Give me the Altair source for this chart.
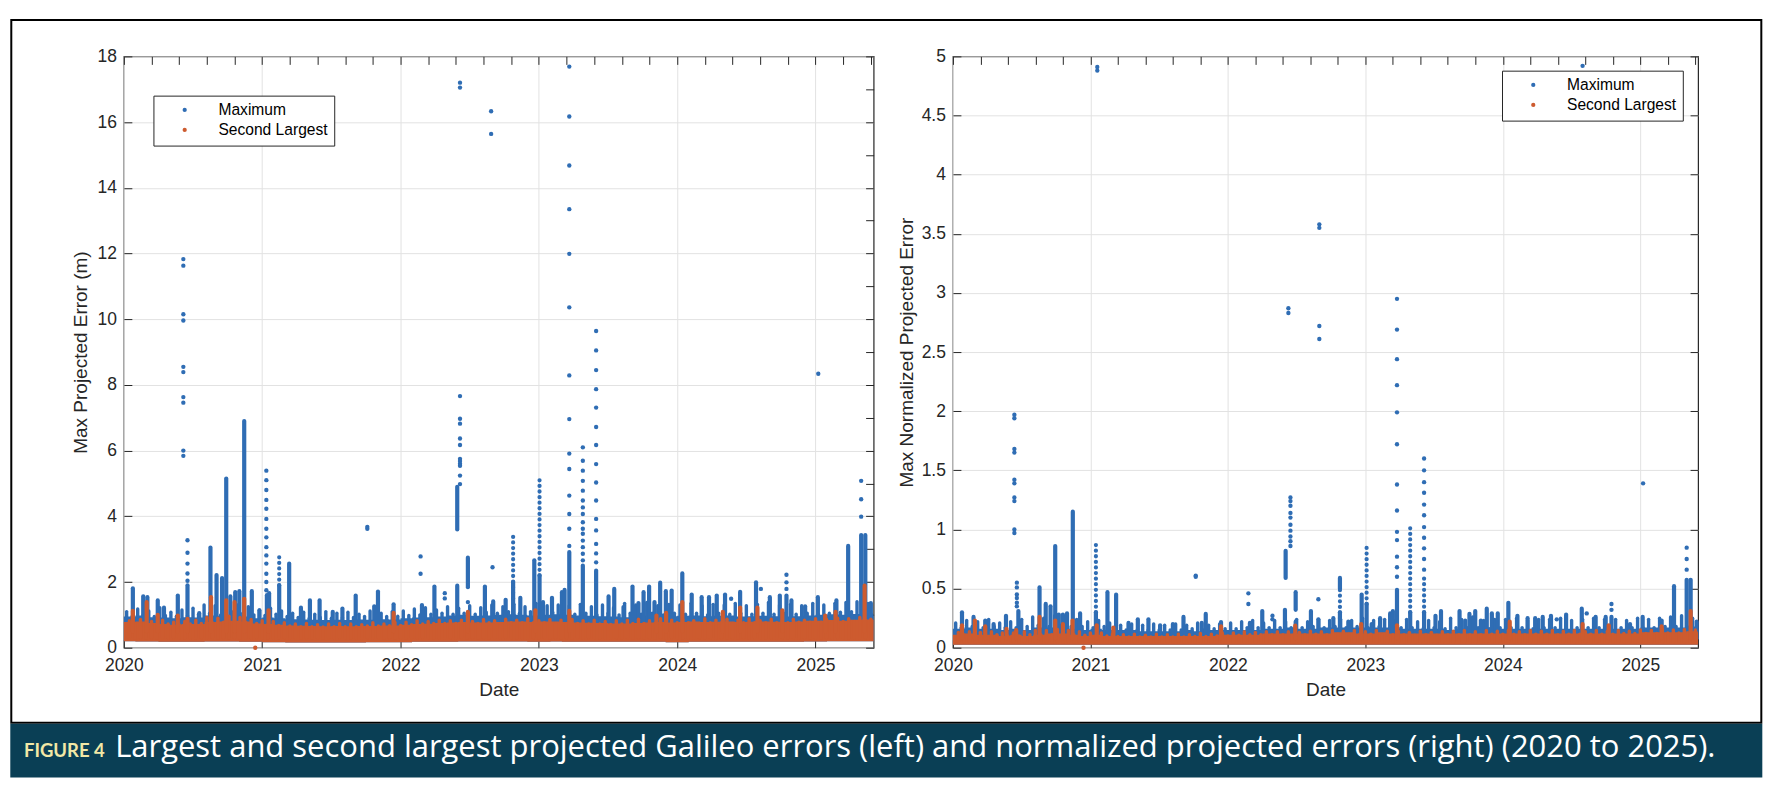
import altair as alt
import pandas as pd

BLUE = "#2F6DB4"
ORANGE = "#CD5B2F"
INK = "#262626"
GRID = "#E2E2E2"
TEAL = "#0A3F55"
CREAM = "#F2E8A6"
AX_FONT = "Liberation Sans, Arial, Helvetica, sans-serif"
X_END = 2025.42
YEAR_TICKS = [2020, 2021, 2022, 2023, 2024, 2025]
SERIES = ["Maximum", "Second Largest"]
COMB_START = 2020.02   # comb samples every 0.04 yr
COMB_STEP = 0.04

# ---------------------------------------------------------------- left panel
# monthly envelope of the dense point cloud (Jan 2020 .. Jun 2025)
left_blue_top = [
    0.95, 0.98, 0.93, 0.92, 0.90, 0.93, 0.92, 0.98, 0.97, 0.98, 0.95, 0.90,
    0.92, 0.90, 0.87, 0.86, 0.85, 0.84, 0.85, 0.84, 0.86, 0.85, 0.87, 0.86,
    0.90, 0.92, 0.93, 0.95, 0.98, 1.00, 0.97, 0.98, 1.00, 1.02, 1.00, 0.98,
    1.00, 1.02, 1.00, 0.98, 0.97, 0.96, 0.95, 0.93, 0.95, 0.97, 0.98, 0.96,
    0.97, 0.98, 0.96, 0.97, 0.98, 0.95, 0.96, 0.97, 0.96, 0.95, 0.96, 0.98,
    1.00, 1.02, 1.00, 1.03, 1.05, 1.00]
left_orange_top = [
    0.78, 0.80, 0.75, 0.72, 0.70, 0.72, 0.72, 0.78, 0.80, 0.82, 0.80, 0.74,
    0.72, 0.70, 0.68, 0.67, 0.66, 0.65, 0.66, 0.65, 0.66, 0.66, 0.68, 0.68,
    0.70, 0.72, 0.73, 0.75, 0.77, 0.78, 0.77, 0.77, 0.78, 0.80, 0.80, 0.78,
    0.80, 0.80, 0.78, 0.77, 0.76, 0.75, 0.74, 0.74, 0.75, 0.77, 0.78, 0.77,
    0.78, 0.80, 0.78, 0.79, 0.80, 0.78, 0.79, 0.80, 0.79, 0.78, 0.80, 0.82,
    0.82, 0.84, 0.82, 0.85, 0.86, 0.84]
left_orange_low = [
    0.20, 0.19, 0.19, 0.18, 0.18, 0.18, 0.18, 0.19, 0.19, 0.19, 0.18, 0.18,
    0.17, 0.17, 0.16, 0.16, 0.16, 0.16, 0.16, 0.16, 0.16, 0.17, 0.17, 0.17,
    0.17, 0.18, 0.18, 0.18, 0.18, 0.19, 0.19, 0.19, 0.19, 0.19, 0.19, 0.18,
    0.18, 0.19, 0.18, 0.18, 0.18, 0.18, 0.18, 0.18, 0.18, 0.18, 0.18, 0.17,
    0.17, 0.18, 0.18, 0.18, 0.18, 0.18, 0.18, 0.18, 0.18, 0.18, 0.18, 0.19,
    0.19, 0.20, 0.20, 0.20, 0.20, 0.20]
# short-lived peaks along the top of the band, one per comb sample
left_blue_comb = [
    1.10, 0.96, 1.18, 1.00, 1.12, 0.95, 1.22, 0.98, 1.08, 0.96,
    1.15, 0.98, 1.20, 1.02, 1.30, 1.05, 1.28, 1.00, 1.35, 1.10,
    1.30, 1.05, 1.25, 1.00, 1.15, 0.98, 1.20, 1.02, 1.12, 0.95,
    1.05, 0.92, 1.08, 0.90, 1.02, 0.92, 1.10, 0.90, 1.05, 0.92,
    1.08, 0.92, 1.02, 0.95, 1.12, 0.92, 1.05, 0.95, 1.10, 0.96,
    1.12, 0.98, 1.18, 1.00, 1.22, 1.02, 1.15, 1.05, 1.25, 1.02,
    1.20, 1.05, 1.28, 1.02, 1.22, 1.08, 1.30, 1.05, 1.25, 1.10,
    1.32, 1.05, 1.25, 1.10, 1.35, 1.05, 1.28, 1.08, 1.30, 1.05,
    1.28, 1.02, 1.32, 1.05, 1.25, 1.00, 1.30, 1.05, 1.22, 1.00,
    1.35, 1.05, 1.30, 1.02, 1.38, 1.05, 1.28, 1.00, 1.32, 1.05,
    1.30, 1.02, 1.35, 1.05, 1.28, 1.00, 1.32, 1.05, 1.30, 1.02,
    1.35, 1.05, 1.28, 1.02, 1.32, 1.05, 1.38, 1.02, 1.30, 1.05,
    1.32, 1.02, 1.28, 1.05, 1.35, 1.02, 1.30, 1.05, 1.35, 1.08,
    1.38, 1.10, 1.40, 1.12, 1.35]
left_orange_comb = [
    0.82, 0.74, 0.86, 0.72, 0.80, 0.70, 0.84, 0.72, 0.78, 0.70,
    0.80, 0.72, 0.84, 0.74, 0.92, 0.76, 0.90, 0.78, 0.96, 0.78,
    0.92, 0.78, 0.86, 0.74, 0.82, 0.70, 0.80, 0.68, 0.76, 0.66,
    0.72, 0.64, 0.74, 0.64, 0.70, 0.63, 0.72, 0.64, 0.74, 0.64,
    0.72, 0.64, 0.70, 0.66, 0.76, 0.66, 0.72, 0.67, 0.77, 0.68,
    0.78, 0.70, 0.82, 0.72, 0.80, 0.74, 0.84, 0.74, 0.82, 0.74,
    0.84, 0.74, 0.80, 0.74, 0.86, 0.76, 0.82, 0.74, 0.87, 0.76,
    0.84, 0.76, 0.88, 0.76, 0.82, 0.76, 0.86, 0.74, 0.84, 0.74,
    0.86, 0.74, 0.82, 0.72, 0.84, 0.72, 0.80, 0.71, 0.82, 0.72,
    0.84, 0.74, 0.87, 0.74, 0.82, 0.74, 0.88, 0.76, 0.84, 0.76,
    0.86, 0.76, 0.82, 0.74, 0.88, 0.76, 0.84, 0.76, 0.87, 0.74,
    0.84, 0.76, 0.88, 0.76, 0.82, 0.76, 0.87, 0.76, 0.84, 0.76,
    0.87, 0.78, 0.84, 0.78, 0.88, 0.78, 0.86, 0.79, 0.90, 0.80,
    0.88, 0.80, 0.92, 0.82, 0.87]

# dense columns of maxima rising out of the band: (date, top)
left_blue_spikes = [
    (2020.065, 1.81), (2020.14, 1.56), (2020.17, 1.54), (2020.245, 1.44),
    (2020.29, 1.22), (2020.39, 1.59), (2020.46, 1.90), (2020.545, 1.05),
    (2020.626, 3.05), (2020.67, 2.21), (2020.71, 2.12), (2020.74, 5.15),
    (2020.77, 1.56), (2020.805, 1.69), (2020.835, 1.72), (2020.87, 6.90),
    (2020.925, 1.72), (2020.98, 1.14), (2021.034, 1.60), (2021.05, 1.66),
    (2021.123, 1.90), (2021.195, 2.56), (2021.28, 1.22), (2021.345, 1.44),
    (2021.415, 1.44), (2021.51, 1.09), (2021.58, 1.19), (2021.676, 1.59),
    (2021.81, 1.26), (2021.837, 1.71), (2021.95, 1.32), (2022.155, 1.30),
    (2022.245, 1.86), (2022.41, 1.89), (2022.61, 1.86), (2022.67, 1.41),
    (2022.76, 1.46), (2022.814, 2.00), (2022.866, 1.52), (2022.967, 2.66),
    (2023.005, 2.20), (2023.03, 1.39), (2023.095, 1.52), (2023.167, 1.69),
    (2023.186, 1.76), (2023.22, 2.91), (2023.318, 2.50), (2023.414, 2.35),
    (2023.504, 1.56), (2023.545, 1.79), (2023.612, 1.24), (2023.677, 1.86),
    (2023.72, 1.36), (2023.757, 1.69), (2023.797, 1.86), (2023.836, 1.39),
    (2023.877, 1.98), (2023.918, 1.72), (2023.96, 1.74), (2024.037, 2.26),
    (2024.105, 1.62), (2024.177, 1.54), (2024.23, 1.54), (2024.286, 1.59),
    (2024.346, 1.62), (2024.455, 1.70), (2024.57, 1.99), (2024.67, 1.54),
    (2024.742, 1.59), (2024.79, 1.59), (2024.826, 1.44), (2024.925, 1.26),
    (2025.017, 1.54), (2025.151, 1.44), (2025.236, 3.10), (2025.33, 3.43),
    (2025.36, 3.43), (2025.40, 1.36)]
# detached dense stretches: (date, from, to)
left_blue_segments = [(2022.41, 3.60, 4.90), (2022.487, 1.84, 2.74)]
# loosely dotted stretches: (date, from, to)
left_blue_dotted = [(2021.123, 1.90, 2.80), (2022.814, 1.50, 3.50),
                    (2023.005, 2.20, 5.20)]
# isolated maxima: date -> values
left_blue_dots = {
    2020.43: [11.83, 11.63, 10.15, 9.96, 8.55, 8.39, 7.63, 7.46, 6.00, 5.84],
    2020.46: [3.27, 2.89, 2.56, 2.26, 2.04],
    2021.03: [5.39, 5.10, 4.80, 4.50, 4.23, 3.92, 3.62, 3.36, 3.06, 2.81,
              2.56, 2.25, 2.00, 1.75],
    2021.76: [3.68, 3.62],
    2022.145: [2.78, 2.25],
    2022.32: [1.66, 1.50],
    2022.43: [17.20, 17.05, 7.66, 6.97, 6.82, 6.37, 6.17, 5.75, 5.68, 5.60,
              5.54, 5.24, 4.98],
    2022.487: [1.39],
    2022.655: [16.33, 15.64],
    2022.665: [2.45],
    2023.22: [17.69, 16.17, 14.68, 13.35, 11.99, 10.36, 8.29, 6.96, 5.91,
              5.44, 4.63, 4.07, 3.62, 3.10],
    2023.318: [6.10, 5.69, 5.39, 5.08, 4.78, 4.48, 4.27, 4.07, 3.82, 3.62,
               3.47, 3.26, 3.06, 2.86, 2.66],
    2023.414: [9.64, 9.05, 8.45, 7.87, 7.31, 6.72, 6.17, 5.59, 5.03, 4.48,
               3.92, 3.57, 3.16, 2.87, 2.60],
    2024.39: [1.49],
    2024.605: [1.79],
    2024.79: [2.22, 1.99, 1.79],
    2025.02: [8.34],
    2025.33: [5.08, 4.52, 3.99],
}
left_orange_spikes = [
    (2020.065, 1.12), (2020.165, 1.39), (2020.245, 1.00), (2020.39, 0.98),
    (2020.46, 0.88), (2020.63, 1.54), (2020.74, 1.44), (2020.80, 1.39),
    (2020.87, 1.49), (2021.046, 1.14), (2021.95, 1.06), (2022.487, 1.09),
    (2022.975, 1.14), (2023.22, 1.12), (2023.85, 0.98), (2023.92, 1.06),
    (2024.037, 1.39), (2024.33, 1.09), (2024.455, 1.22), (2024.58, 1.22),
    (2024.76, 1.14), (2025.07, 0.98), (2025.145, 1.09), (2025.355, 1.89)]
left_orange_dots = {2020.95: [0.0]}

# --------------------------------------------------------------- right panel
right_blue_top = [
    0.16, 0.17, 0.16, 0.16, 0.15, 0.16, 0.15, 0.17, 0.17, 0.17, 0.16, 0.15,
    0.16, 0.15, 0.15, 0.15, 0.14, 0.14, 0.14, 0.14, 0.15, 0.14, 0.15, 0.15,
    0.15, 0.15, 0.15, 0.16, 0.16, 0.17, 0.16, 0.16, 0.17, 0.17, 0.17, 0.17,
    0.17, 0.17, 0.17, 0.16, 0.16, 0.16, 0.16, 0.15, 0.16, 0.16, 0.16, 0.16,
    0.16, 0.16, 0.16, 0.16, 0.16, 0.16, 0.16, 0.16, 0.16, 0.16, 0.16, 0.16,
    0.17, 0.17, 0.17, 0.17, 0.18, 0.17]
right_orange_top = [
    0.11, 0.12, 0.11, 0.11, 0.10, 0.11, 0.10, 0.11, 0.12, 0.12, 0.11, 0.10,
    0.11, 0.10, 0.10, 0.10, 0.10, 0.10, 0.10, 0.10, 0.10, 0.10, 0.10, 0.11,
    0.11, 0.11, 0.11, 0.12, 0.12, 0.12, 0.12, 0.12, 0.12, 0.13, 0.13, 0.12,
    0.12, 0.13, 0.12, 0.12, 0.12, 0.12, 0.12, 0.12, 0.12, 0.12, 0.12, 0.12,
    0.12, 0.12, 0.12, 0.12, 0.12, 0.12, 0.12, 0.12, 0.12, 0.12, 0.12, 0.12,
    0.13, 0.13, 0.13, 0.13, 0.14, 0.13]
right_orange_low = [0.025] * 66
right_blue_comb = [
    0.21, 0.17, 0.23, 0.18, 0.22, 0.17, 0.24, 0.18, 0.21, 0.17,
    0.22, 0.17, 0.24, 0.18, 0.26, 0.19, 0.25, 0.18, 0.27, 0.19,
    0.26, 0.18, 0.24, 0.18, 0.22, 0.17, 0.23, 0.18, 0.21, 0.16,
    0.19, 0.15, 0.20, 0.15, 0.19, 0.15, 0.20, 0.15, 0.19, 0.15,
    0.20, 0.15, 0.19, 0.16, 0.21, 0.15, 0.19, 0.16, 0.20, 0.16,
    0.21, 0.16, 0.22, 0.17, 0.23, 0.17, 0.21, 0.17, 0.23, 0.17,
    0.22, 0.17, 0.24, 0.17, 0.22, 0.18, 0.24, 0.17, 0.23, 0.18,
    0.24, 0.17, 0.23, 0.18, 0.25, 0.17, 0.23, 0.18, 0.24, 0.17,
    0.23, 0.17, 0.24, 0.17, 0.22, 0.16, 0.23, 0.17, 0.22, 0.16,
    0.25, 0.17, 0.24, 0.17, 0.26, 0.17, 0.23, 0.16, 0.24, 0.17,
    0.24, 0.17, 0.25, 0.17, 0.23, 0.16, 0.24, 0.17, 0.24, 0.17,
    0.25, 0.17, 0.23, 0.17, 0.24, 0.17, 0.25, 0.17, 0.24, 0.17,
    0.24, 0.17, 0.23, 0.17, 0.25, 0.17, 0.24, 0.17, 0.25, 0.18,
    0.26, 0.18, 0.27, 0.18, 0.25]
right_orange_comb = [
    0.130, 0.110, 0.135, 0.110, 0.130, 0.100, 0.135, 0.110, 0.125, 0.100,
    0.125, 0.100, 0.135, 0.110, 0.145, 0.110, 0.145, 0.110, 0.155, 0.115,
    0.145, 0.110, 0.135, 0.105, 0.125, 0.100, 0.125, 0.100, 0.115, 0.095,
    0.110, 0.090, 0.115, 0.090, 0.105, 0.090, 0.115, 0.090, 0.110, 0.090,
    0.115, 0.090, 0.110, 0.095, 0.120, 0.095, 0.115, 0.100, 0.125, 0.100,
    0.125, 0.105, 0.135, 0.110, 0.130, 0.110, 0.135, 0.110, 0.135, 0.110,
    0.135, 0.110, 0.130, 0.110, 0.140, 0.115, 0.135, 0.110, 0.145, 0.115,
    0.140, 0.115, 0.145, 0.115, 0.135, 0.115, 0.145, 0.110, 0.140, 0.110,
    0.140, 0.110, 0.130, 0.105, 0.140, 0.110, 0.130, 0.105, 0.135, 0.110,
    0.140, 0.110, 0.145, 0.110, 0.135, 0.110, 0.145, 0.115, 0.140, 0.115,
    0.145, 0.115, 0.135, 0.110, 0.145, 0.115, 0.140, 0.115, 0.145, 0.110,
    0.140, 0.115, 0.145, 0.115, 0.135, 0.115, 0.145, 0.115, 0.140, 0.115,
    0.145, 0.120, 0.140, 0.120, 0.150, 0.120, 0.145, 0.120, 0.155, 0.125,
    0.150, 0.125, 0.155, 0.125, 0.150]

right_blue_spikes = [
    (2020.066, 0.30), (2020.15, 0.26), (2020.235, 0.23), (2020.296, 0.20),
    (2020.386, 0.27), (2020.476, 0.31), (2020.63, 0.51), (2020.675, 0.37),
    (2020.71, 0.35), (2020.744, 0.86), (2020.77, 0.28), (2020.80, 0.28),
    (2020.83, 0.29), (2020.872, 1.15), (2020.925, 0.29), (2021.04, 0.30),
    (2021.05, 0.19), (2021.124, 0.47), (2021.187, 0.45), (2021.277, 0.21),
    (2021.345, 0.24), (2021.422, 0.24), (2021.507, 0.19), (2021.60, 0.20),
    (2021.677, 0.26), (2021.81, 0.21), (2021.839, 0.286), (2021.95, 0.217),
    (2022.16, 0.21), (2022.25, 0.31), (2022.415, 0.32), (2022.493, 0.22),
    (2022.604, 0.31), (2022.658, 0.24), (2022.767, 0.25), (2022.815, 0.30),
    (2022.876, 0.22), (2022.973, 0.45), (2023.009, 0.37), (2023.046, 0.20),
    (2023.107, 0.25), (2023.18, 0.29), (2023.20, 0.31), (2023.23, 0.49),
    (2023.326, 0.30), (2023.427, 0.30), (2023.51, 0.27), (2023.55, 0.31),
    (2023.685, 0.31), (2023.726, 0.23), (2023.757, 0.286), (2023.799, 0.31),
    (2023.84, 0.23), (2023.883, 0.33), (2023.92, 0.29), (2023.963, 0.29),
    (2024.04, 0.38), (2024.106, 0.27), (2024.18, 0.25), (2024.235, 0.25),
    (2024.29, 0.26), (2024.35, 0.27), (2024.46, 0.28), (2024.574, 0.33),
    (2024.675, 0.26), (2024.748, 0.26), (2024.79, 0.26), (2024.925, 0.20),
    (2025.017, 0.26), (2025.155, 0.23), (2025.245, 0.52), (2025.337, 0.574),
    (2025.366, 0.574), (2025.41, 0.22)]
right_blue_segments = [(2022.42, 0.59, 0.82), (2022.493, 0.32, 0.47),
                       (2022.815, 0.50, 0.59)]
right_blue_dotted = [(2021.04, 0.30, 0.90), (2022.815, 0.25, 0.50),
                     (2023.009, 0.37, 0.86), (2023.326, 0.30, 1.02),
                     (2023.427, 0.30, 0.62)]
right_blue_dots = {
    2020.447: [1.97, 1.94, 1.68, 1.65, 1.42, 1.39, 1.27, 1.24, 1.00, 0.97],
    2020.465: [0.55, 0.51, 0.45, 0.42, 0.38, 0.35],
    2021.05: [4.91, 4.88],
    2021.766: [0.61, 0.60],
    2022.149: [0.46, 0.37],
    2022.324: [0.27, 0.24],
    2022.44: [2.87, 2.83],
    2022.455: [1.27, 1.24, 1.20, 1.14, 1.10, 1.04, 0.99, 0.94, 0.90, 0.86],
    2022.658: [0.41],
    2022.665: [3.58, 3.55, 2.72, 2.61],
    2023.23: [2.95, 2.69, 2.44, 2.22, 1.99, 1.72, 1.38, 1.16, 0.98, 0.91,
              0.77, 0.68, 0.60],
    2023.427: [1.60, 1.50, 1.40, 1.31, 1.21, 1.12, 1.02, 0.93, 0.84, 0.75,
               0.66],
    2024.392: [0.24],
    2024.58: [4.92],
    2024.61: [0.29],
    2024.79: [0.37, 0.32],
    2025.02: [1.39],
    2025.337: [0.846, 0.75, 0.66],
}
right_orange_spikes = [
    (2020.066, 0.19), (2020.16, 0.23), (2020.235, 0.18), (2020.39, 0.16),
    (2020.46, 0.15), (2020.63, 0.26), (2020.744, 0.23), (2020.80, 0.20),
    (2020.87, 0.23), (2021.046, 0.19), (2021.167, 0.17), (2021.95, 0.18),
    (2022.49, 0.186), (2022.97, 0.20), (2023.23, 0.19), (2024.05, 0.22),
    (2024.58, 0.20), (2024.77, 0.19), (2025.155, 0.18), (2025.366, 0.31)]
right_orange_dots = {2020.95: [0.0]}

CAPTION_TAG = "FIGURE 4"
CAPTION = ("Largest and second largest projected Galileo errors (left) and "
           "normalized projected errors (right) (2020 to 2025).")


def band_frame(blue_top, orange_top, orange_low):
    n = len(blue_top)
    xs = [2020 + i / 12 for i in range(n)] + [X_END]
    return pd.DataFrame({
        "x": xs,
        "btop": blue_top + blue_top[-1:],
        "otop": orange_top + orange_top[-1:],
        "low": orange_low + orange_low[-1:],
    })


def comb_frame(tops, shift, base):
    xs = [COMB_START + shift + COMB_STEP * i for i in range(len(tops))]
    return pd.DataFrame({"x": xs, "top": tops, "base": base})


def dots_frame(blue, orange):
    rows = [(x, v, SERIES[0]) for x, vals in blue.items() for v in vals]
    rows += [(x, v, SERIES[1]) for x, vals in orange.items() for v in vals]
    return pd.DataFrame(rows, columns=["x", "v", "series"])


def tick_axis(orient):
    return alt.Axis(orient=orient, labels=False, ticks=True, tickSize=8,
                    offset=-8, domain=False, grid=False, title=None,
                    tickColor=INK, tickWidth=1)


def panel(ymax, yvals, yfmt, ytitle, ytitle_pad, base, d):
    xs = alt.Scale(domain=[2020, X_END], nice=False, zero=False)
    ys = alt.Scale(domain=[0, ymax], nice=False)
    x_axis = alt.Axis(values=YEAR_TICKS, format="d", title="Date",
                      orient="bottom", offset=-8, tickSize=8, domain=False,
                      labelPadding=9, titlePadding=6, grid=True,
                      labelFlush=False)
    y_axis = alt.Axis(values=yvals, format=yfmt, title=ytitle,
                      orient="left", offset=-8, tickSize=8, domain=False,
                      labelPadding=7.5, titlePadding=ytitle_pad, grid=True,
                      labelFlush=False)
    xn = alt.X("x:Q", scale=xs, axis=None)

    def rules(df, color, lo, hi, width=4.2, dash=None):
        kw = dict(color=color, strokeWidth=width, strokeCap="round")
        if dash:
            kw["strokeDash"] = dash
        return alt.Chart(df).mark_rule(**kw).encode(
            x=xn, y=alt.Y(lo, scale=ys, axis=None), y2=hi)

    bands = band_frame(d["btop"], d["otop"], d["olow"])
    blue_band = alt.Chart(bands).mark_area(
        interpolate="step-after", color=BLUE).encode(
        x=alt.X("x:Q", scale=xs, axis=x_axis),
        y=alt.Y("low:Q", scale=ys, axis=y_axis),
        y2="btop:Q")

    blue_comb = rules(comb_frame(d["bcomb"], 0.0, base), BLUE,
                      "base:Q", "top:Q", width=3.4)

    bs = pd.DataFrame(d["bspikes"], columns=["x", "top"]).assign(base=base)
    blue_spikes = alt.Chart(bs).mark_rule(
        color=BLUE, strokeWidth=4.2, strokeCap="round").encode(
        x=alt.X("x:Q", scale=xs, axis=tick_axis("top")),
        y=alt.Y("base:Q", scale=ys, axis=tick_axis("right")),
        y2="top:Q")

    blue_seg = rules(pd.DataFrame(d["bseg"], columns=["x", "lo", "hi"]),
                     BLUE, "lo:Q", "hi:Q")
    blue_dotted = rules(pd.DataFrame(d["bdot"], columns=["x", "lo", "hi"]),
                        BLUE, "lo:Q", "hi:Q", dash=[0.1, 5.5])

    orange_band = alt.Chart(bands).mark_area(
        interpolate="step-after", color=ORANGE).encode(
        x=xn, y=alt.Y("low:Q", scale=ys, axis=None), y2="otop:Q")

    orange_comb = rules(comb_frame(d["ocomb"], 0.02, base * 0.6), ORANGE,
                        "base:Q", "top:Q", width=3.4)

    os_ = pd.DataFrame(d["ospikes"], columns=["x", "top"]).assign(base=base)
    orange_spikes = rules(os_, ORANGE, "base:Q", "top:Q")

    pts = dots_frame(d["bdots"], d["odots"])
    points = alt.Chart(pts).mark_point(
        filled=True, size=19, opacity=1).encode(
        x=xn, y=alt.Y("v:Q", scale=ys, axis=None),
        color=alt.Color("series:N",
                        scale=alt.Scale(domain=SERIES, range=[BLUE, ORANGE]),
                        legend=alt.Legend(orient="none", title=None,
                                          legendX=d["lx"], legendY=d["ly"])))
    return [blue_band, blue_comb, blue_spikes, blue_seg, blue_dotted,
            orange_band, orange_comb, orange_spikes, points]


left_layers = panel(
    18, list(range(0, 19, 2)), "d", "Max Projected Error (m)", 6, 0.5,
    dict(btop=left_blue_top, otop=left_orange_top, olow=left_orange_low,
         bcomb=left_blue_comb, ocomb=left_orange_comb,
         bspikes=left_blue_spikes, bseg=left_blue_segments,
         bdot=left_blue_dotted, bdots=left_blue_dots,
         ospikes=left_orange_spikes, odots=left_orange_dots,
         lx=29.6, ly=39.3))

right_layers = panel(
    5, [i * 0.5 for i in range(11)], ".1~f",
    "Max Normalized Projected Error", 5, 0.08,
    dict(btop=right_blue_top, otop=right_orange_top, olow=right_orange_low,
         bcomb=right_blue_comb, ocomb=right_orange_comb,
         bspikes=right_blue_spikes, bseg=right_blue_segments,
         bdot=right_blue_dotted, bdots=right_blue_dots,
         ospikes=right_orange_spikes, odots=right_orange_dots,
         lx=549.7, ly=14.3))

# page furniture: frame, caption bar and caption, placed relative to the
# left plot origin (122.7, 55) of a 1772 x 792 page
one = pd.DataFrame({"k": [0]})
page = alt.Chart(one).mark_rect(fill="white", opacity=0).encode(
    x=alt.value(-122.7), x2=alt.value(1649.3),
    y=alt.value(-55), y2=alt.value(737))
frame = alt.Chart(one).mark_rect(fill=None, stroke="black", strokeWidth=2).encode(
    x=alt.value(-112.7), x2=alt.value(1639.3),
    y=alt.value(-36.5), y2=alt.value(667))
bar = alt.Chart(one).mark_rect(fill=TEAL).encode(
    x=alt.value(-113.7), x2=alt.value(1640.3),
    y=alt.value(668), y2=alt.value(722))
tag = alt.Chart(one).mark_text(
    text=CAPTION_TAG, align="left", baseline="alphabetic", color=CREAM,
    font="Lato, sans-serif", fontWeight="bold", fontSize=18.5).encode(
    x=alt.value(-100), y=alt.value(701.7))
cap = alt.Chart(one).mark_text(
    text=CAPTION, align="left", baseline="alphabetic", color="white",
    font="Open Sans, sans-serif", fontSize=31).encode(
    x=alt.value(-8.7), y=alt.value(701.7))

left = alt.layer(page, frame, bar, tag, cap, *left_layers).resolve_axis(
    x="independent", y="independent").properties(width=750.6, height=592)
right = alt.layer(*right_layers).resolve_axis(
    x="independent", y="independent").properties(width=746, height=592)

chart = alt.hconcat(left, right, spacing=79, bounds="flush").resolve_scale(
    color="independent").properties(padding=0, background="white").configure_view(
    stroke=INK, strokeWidth=1.2).configure_axis(
    labelFont=AX_FONT, labelFontSize=17.5, labelColor=INK,
    titleFont=AX_FONT, titleFontSize=19, titleColor=INK,
    titleFontWeight="normal", gridColor=GRID, gridWidth=1,
    tickColor=INK).configure_legend(
    labelFont=AX_FONT, labelFontSize=15.6, labelColor="black",
    strokeColor=INK, strokeWidth=1, fillColor="white", padding=6.5,
    symbolType="circle", symbolSize=18, symbolOffset=17, labelOffset=26,
    rowPadding=3, cornerRadius=0)

chart.save("out.html", embed_options={"renderer": "svg", "actions": False})
